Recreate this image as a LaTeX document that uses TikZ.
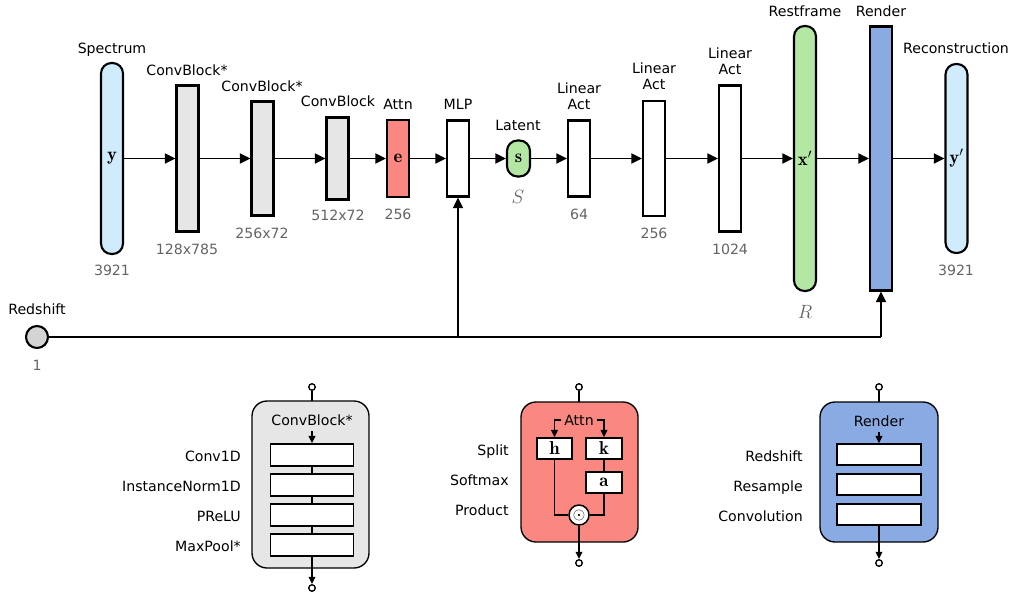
\documentclass[tikz,border=0pt]{standalone}
\usepackage{fontspec}
\newfontfamily\dejavu{DejaVu Sans}
\usetikzlibrary{arrows.meta}

\definecolor{specblue}{RGB}{208,236,252}
\definecolor{convgray}{RGB}{230,230,230}
\definecolor{attnred}{RGB}{250,136,128}
\definecolor{restgreen}{RGB}{180,230,164}
\definecolor{renderblue}{RGB}{138,170,228}
\definecolor{zgray}{RGB}{212,212,212}
\definecolor{numgray}{RGB}{100,100,100}

\newdimen\pu \pu=0.75pt

\tikzset{
  layer/.style={draw, line width=1.6pt, inner sep=0pt, minimum width=22\pu},
  pill/.style={layer, rounded corners=10.5\pu},
  txt/.style={font=\dejavu\fontsize{10.6}{12}\selectfont, inner sep=0pt, align=center},
  lbl/.style={txt, text height=7.7pt, text depth=0pt},
  dimtxt/.style={lbl, text=numgray},
  symtxt/.style={font=\fontsize{14}{16}\selectfont},
  flow/.style={line width=1.4pt, -{Triangle[length=8pt,width=7.5pt]}},
  wire/.style={line width=1.4pt},
  panel/.style={draw, line width=1pt, rounded corners=15\pu, inner sep=0pt},
  sub/.style={draw, line width=1.1pt, fill=white, inner sep=0pt},
  thin/.style={line width=1.1pt},
  thinflow/.style={line width=1.1pt, -{Triangle[length=5.5pt,width=5pt]}},
  port/.style={circle, draw, line width=1pt, fill=white, inner sep=0pt, minimum size=6.5\pu},
}

\begin{document}
\begin{tikzpicture}[x=0.75pt, y=-0.75pt]
\useasboundingbox (0,0) rectangle (1013,596);

% ---------- main pipeline ----------
\node[pill, fill=specblue, minimum height=191\pu, symtxt] (spec) at (112,158.5) {$\mathbf{y}$};
\node[layer, fill=convgray, minimum height=146\pu] (cb1) at (187.5,158.5) {};
\node[layer, fill=convgray, minimum height=114\pu] (cb2) at (262.5,158.5) {};
\node[layer, fill=convgray, minimum height=82\pu] (cb3) at (337.5,158.5) {};
\node[layer, fill=attnred, minimum height=77\pu, symtxt] (attn) at (398,158.5) {$\mathbf{e}$};
\node[layer, fill=white, minimum height=76\pu] (mlp) at (458,158.5) {};
\node[pill, fill=restgreen, minimum height=36\pu, minimum width=23\pu, symtxt] (lat) at (518.5,158.5) {$\mathbf{s}$};
\node[layer, fill=white, minimum height=76\pu] (lin1) at (579,158.5) {};
\node[layer, fill=white, minimum height=115\pu] (lin2) at (654,158.5) {};
\node[layer, fill=white, minimum height=146\pu] (lin3) at (730,158.5) {};
\node[pill, fill=restgreen, minimum height=265\pu, symtxt] (rest) at (805,158.5) {$\mathbf{x}'$};
\node[layer, fill=renderblue, minimum height=264\pu] (render) at (881,158.5) {};
\node[pill, fill=specblue, minimum height=189\pu, symtxt] (recon) at (956.5,158.5) {$\mathbf{y}'$};

\foreach \a/\b in {spec/cb1, cb1/cb2, cb2/cb3, cb3/attn, attn/mlp, mlp/lat,
                   lat/lin1, lin1/lin2, lin2/lin3, lin3/rest, rest/render, render/recon}
  \draw[flow] (\a.east) -- (\b.west);

% titles
\node[lbl] (tSpec) at (112,48) {Spectrum};
\node[lbl] (tCb1) at (187,70) {ConvBlock*};
\node[lbl] (tCb2) at (262,86) {ConvBlock*};
\node[lbl] (tCb3) at (338,101) {ConvBlock};
\node[lbl] (tAttn) at (398,104) {Attn};
\node[lbl] (tMlp) at (458,104) {MLP};
\node[lbl] (tLat) at (518,125) {Latent};
\node[txt] (tLin1) at (579,96) {Linear\\Act};
\node[txt] (tLin2) at (654,76) {Linear\\Act};
\node[txt] (tLin3) at (730,61) {Linear\\Act};
\node[lbl] (tRest) at (805,11) {Restframe};
\node[lbl] (tRender) at (881,11) {Render};
\node[lbl] (tRecon) at (956,48) {Reconstruction};

% sizes
\node[dimtxt] (dSpec) at (112,270) {3921};
\node[dimtxt] (dCb1) at (187,249) {128x785};
\node[dimtxt] (dCb2) at (262,233) {256x72};
\node[dimtxt] (dCb3) at (338,215) {512x72};
\node[dimtxt] (dAttn) at (398,214) {256};
\node[text=numgray, inner sep=0pt, symtxt] (dLat) at (518,197) {$S$};
\node[dimtxt] (dLin1) at (579,214) {64};
\node[dimtxt] (dLin2) at (654,233) {256};
\node[dimtxt] (dLin3) at (730,249) {1024};
\node[text=numgray, inner sep=0pt, symtxt] (dRest) at (805,312) {$R$};
\node[dimtxt] (dRecon) at (956,270) {3921};

% redshift input
\node[circle, draw, line width=1.6pt, fill=zgray, inner sep=0pt, minimum size=22\pu] (z) at (37,337) {};
\node[lbl] (tZ) at (37,309) {Redshift};
\node[dimtxt] (dZ) at (37,365) {1};
\coordinate (zmlp) at (458,337);
\coordinate (zrender) at (881,337);
\draw[wire] (z.east) -- (zrender);
\draw[flow] (zmlp) -- (mlp.south);
\draw[flow] (zrender) -- (render.south);

% ---------- ConvBlock* detail ----------
\node[panel, fill=convgray, minimum width=117\pu, minimum height=167\pu] (cbp) at (310.5,484.5) {};
\node[port] (cbin) at (312,387) {};
\coordinate (cbtop) at (312,401);
\draw[thin] (cbin) -- (cbtop);
\node[lbl] (cbt) at (312,420) {ConvBlock*};
\foreach \i/\y in {1/455, 2/485, 3/515, 4/545}
  \node[sub, minimum width=83\pu, minimum height=22\pu] (cbs\i) at (312,\y) {};
\coordinate (cbarr) at (312,431);
\draw[thinflow] (cbarr) -- (cbs1.north);
\draw[thin] (cbs1) -- (cbs2) (cbs2) -- (cbs3) (cbs3) -- (cbs4);
\node[port] (cbout) at (312,588) {};
\draw[thinflow] (cbs4.south) -- (cbout.north);
\node[lbl, anchor=east] (cbl1) at (241,456) {Conv1D};
\node[lbl, anchor=east] (cbl2) at (241,486) {InstanceNorm1D};
\node[lbl, anchor=east] (cbl3) at (241,516) {PReLU};
\node[lbl, anchor=east] (cbl4) at (241,546) {MaxPool*};

% ---------- Attn detail ----------
\node[panel, fill=attnred, minimum width=117\pu, minimum height=140\pu] (atp) at (579.5,472) {};
\node[port] (atin) at (579,387) {};
\coordinate (attop) at (579,402);
\draw[thin] (atin) -- (attop);
\node[lbl, inner xsep=2pt] (att) at (579,420) {Attn};
\node[sub, minimum width=35\pu, minimum height=21\pu, symtxt] (ah) at (554.5,448.5) {$\mathbf{h}$};
\node[sub, minimum width=36\pu, minimum height=21\pu, symtxt] (ak) at (604,448.5) {$\mathbf{k}$};
\node[sub, minimum width=36\pu, minimum height=21\pu, symtxt] (aa) at (604,482.5) {$\mathbf{a}$};
\node[circle, sub, minimum size=20\pu, font=\fontsize{12}{14}\selectfont] (aprod) at (579,515) {$\odot$};
\draw[thinflow] (att.west) -| (ah.north);
\draw[thinflow] (att.east) -| (ak.north);
\draw[thin] (ak.south) -- (aa.north);
\draw[thin] (ah.south) |- (aprod.west);
\draw[thin] (aa.south) |- (aprod.east);
\node[port] (atout) at (579,563) {};
\draw[thinflow] (aprod.south) -- (atout.north);
\node[lbl, anchor=east] (atl1) at (509,450) {Split};
\node[lbl, anchor=east] (atl2) at (509,480) {Softmax};
\node[lbl, anchor=east] (atl3) at (509,510) {Product};

% ---------- Render detail ----------
\node[panel, fill=renderblue, minimum width=118\pu, minimum height=140\pu] (rdp) at (879,472) {};
\node[port] (rdin) at (879,387) {};
\coordinate (rdtop) at (879,402);
\draw[thin] (rdin) -- (rdtop);
\node[lbl] (rdt) at (879,421) {Render};
\foreach \i/\y in {1/454.5, 2/484.5, 3/514.5}
  \node[sub, minimum width=84\pu, minimum height=21\pu] (rds\i) at (879,\y) {};
\coordinate (rdarr) at (879,432);
\draw[thinflow] (rdarr) -- (rds1.north);
\node[port] (rdout) at (879,563) {};
\draw[thinflow] (rds3.south) -- (rdout.north);
\node[lbl, anchor=east] (rdl1) at (803,456) {Redshift};
\node[lbl, anchor=east] (rdl2) at (803,486) {Resample};
\node[lbl, anchor=east] (rdl3) at (803,516) {Convolution};
\end{tikzpicture}
\end{document}
